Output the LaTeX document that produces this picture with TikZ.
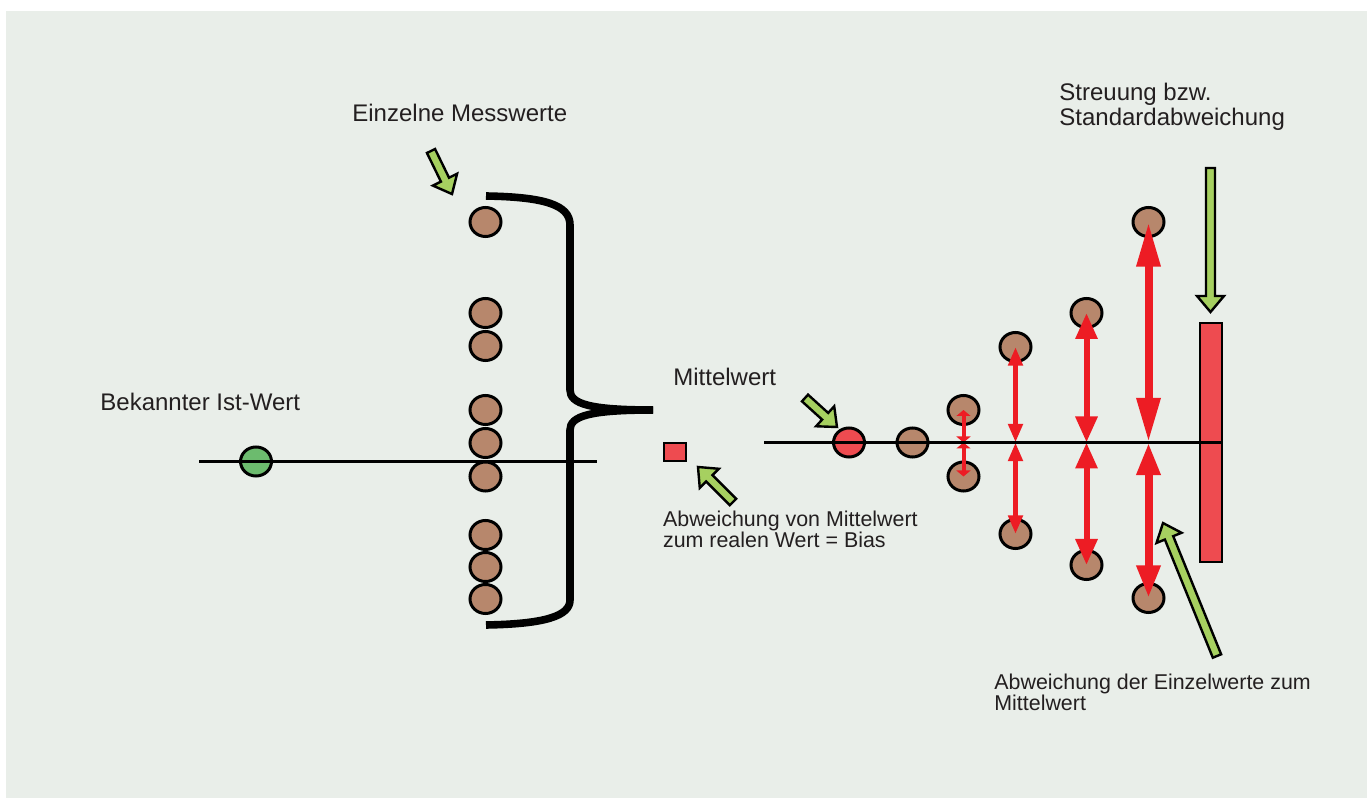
\documentclass[tikz,border=0pt]{standalone}
\usepackage{fontspec}
\setmainfont{Liberation Sans}
\usetikzlibrary{shapes.geometric,arrows.meta}

\definecolor{hgrund}{RGB}{233,238,233}
\definecolor{braun}{RGB}{183,135,108}
\definecolor{gruenpunkt}{RGB}{108,187,110}
\definecolor{rotfill}{RGB}{238,75,80}
\definecolor{rotpfeil}{RGB}{237,28,36}
\definecolor{gruenpfeil}{RGB}{166,208,96}
\definecolor{schrift}{RGB}{35,31,32}

\tikzset{
  punkt/.style={ellipse, draw=black, line width=1.5pt, minimum width=15.5pt, minimum height=14.5pt, inner sep=0pt},
  messwert/.style={punkt, fill=braun},
  istwert/.style={punkt, fill=gruenpunkt},
  mittel/.style={punkt, fill=rotfill},
  rotkasten/.style={rectangle, draw=black, line width=1pt, fill=rotfill, inner sep=0pt},
  klammer/.style={line width=3.8pt, line cap=butt, line join=round},
  linie/.style={line width=1.2pt},
  beschr/.style={anchor=base west, inner sep=0pt, text=schrift, font=\fontsize{12}{12.5}\selectfont},
  klein/.style={anchor=base west, inner sep=0pt, text=schrift, font=\fontsize{10.7}{10.5}\selectfont},
  spfeil1/.style={draw=rotpfeil, line width=2pt, {Triangle[length=3pt,width=7pt]}-{Triangle[length=3pt,width=7pt]}},
  spfeil2/.style={draw=rotpfeil, line width=2.8pt, {Triangle[length=9.3pt,width=7pt]}-{Triangle[length=9.3pt,width=7pt]}},
  spfeil3/.style={draw=rotpfeil, line width=3pt, {Triangle[length=13pt,width=10.5pt]}-{Triangle[length=13pt,width=10.5pt]}},
  spfeil4/.style={draw=rotpfeil, line width=4pt, {Triangle[length=22.3pt,width=11.2pt]}-{Triangle[length=22.3pt,width=11.2pt]}},
  spfeil5/.style={draw=rotpfeil, line width=4pt, {Triangle[length=16.3pt,width=11.2pt]}-{Triangle[length=16.3pt,width=11.2pt]}},
  pics/gpfeil/.style={code={
    \filldraw[fill=gruenpfeil, draw=black, line width=1.2pt]
      (0,4.5) -- ({#1-16},4.5) -- ({#1-16},13.5) -- (#1,0) -- ({#1-16},-13.5) -- ({#1-16},-4.5) -- (0,-4.5) -- cycle;
  }}
}

\begin{document}
\begin{tikzpicture}[x=0.5pt,y=0.5pt]
% rahmen
\useasboundingbox (0,0) rectangle (1367,-801);
\fill[hgrund] (6,-11) rectangle (1367,-798);

% einzelne messwerte
\node[istwert] (ist) at (256,-461.5) {};
\node[messwert] (m1) at (485.5,-222) {};
\node[messwert] (m2) at (485.5,-313) {};
\node[messwert] (m3) at (485.5,-346) {};
\node[messwert] (m4) at (485.5,-410) {};
\node[messwert] (m5) at (485.5,-443) {};
\node[messwert] (m6) at (485.5,-476.5) {};
\node[messwert] (m7) at (485.5,-535) {};
\node[messwert] (m8) at (485.5,-567) {};
\node[messwert] (m9) at (485.5,-599) {};

% klammer
\draw[klammer] (486,-196) .. controls (545,-197) and (570,-205) .. (570,-225) -- (570,-390) .. controls (570,-404) and (590,-410) .. (653,-410);
\draw[klammer] (486,-625) .. controls (545,-624) and (570,-616) .. (570,-600) -- (570,-430) .. controls (570,-416) and (590,-410) .. (653,-410);

% bias
\node[rotkasten, minimum width=11pt, minimum height=9pt] (bias) at (675,-452) {};

% streuung
\node[rotkasten, minimum width=11pt, minimum height=119.5pt] (bar) at (1211,-442.8) {};
\node[mittel] (mw) at (849,-442.5) {};
\node[messwert] (w0) at (912.5,-442.5) {};
\node[messwert] (a1o) at (963.5,-410) {};
\node[messwert] (a1u) at (963.5,-476.5) {};
\node[messwert] (a2o) at (1015.5,-347) {};
\node[messwert] (a2u) at (1015.5,-534) {};
\node[messwert] (a3o) at (1086.5,-313) {};
\node[messwert] (a3u) at (1086.5,-565) {};
\node[messwert] (a4o) at (1148.5,-222) {};
\node[messwert] (a4u) at (1148.5,-598) {};

\coordinate (s1) at (963.5,-442.5);
\coordinate (s2) at (1015.5,-442.5);
\coordinate (s3) at (1086.5,-442.5);
\coordinate (s4) at (1148.5,-442.5);

\draw[spfeil1] (a1o.center) -- (s1);
\draw[spfeil1] (s1) -- (a1u.center);
\draw[spfeil2] (a2o.center) -- (s2);
\draw[spfeil2] (s2) -- (a2u.center);
\draw[spfeil3] (a3o.center) -- (s3);
\draw[spfeil3] (s3) -- (a3u.center);
\draw[spfeil4] (a4o.center) -- (s4);
\draw[spfeil5] (s4) -- (a4u.center);

% linien
\draw[linie] (199,-461.5) -- (597,-461.5);
\draw[linie] (764,-442.5) -- (1222.5,-442.5);

% gruene pfeile
\pic[rotate=-64] at (431,-151) {gpfeil=47.9};
\pic[rotate=-42.2] at (805,-398) {gpfeil=43.2};
\pic[rotate=135] at (733,-502) {gpfeil=49.5};
\pic[rotate=-90] at (1210.5,-168) {gpfeil=144};
\pic[rotate=112.1] at (1217,-656) {gpfeil=143.5};

% texte (base = letzte zeile)
\node[beschr] (t1) at (352,-122) {Einzelne Messwerte};
\node[beschr, align=left] (t2) at (1059,-125.5) {Streuung bzw.\\Standardabweichung};
\node[beschr] (t3) at (100,-411) {Bekannter Ist-Wert};
\node[beschr] (t4) at (673,-386) {Mittelwert};
\node[klein, align=left] (t5) at (662.7,-548) {Abweichung von Mittelwert\\zum realen Wert = Bias};
\node[klein, align=left] (t6) at (994,-711) {Abweichung der Einzelwerte zum\\Mittelwert};
\end{tikzpicture}
\end{document}
